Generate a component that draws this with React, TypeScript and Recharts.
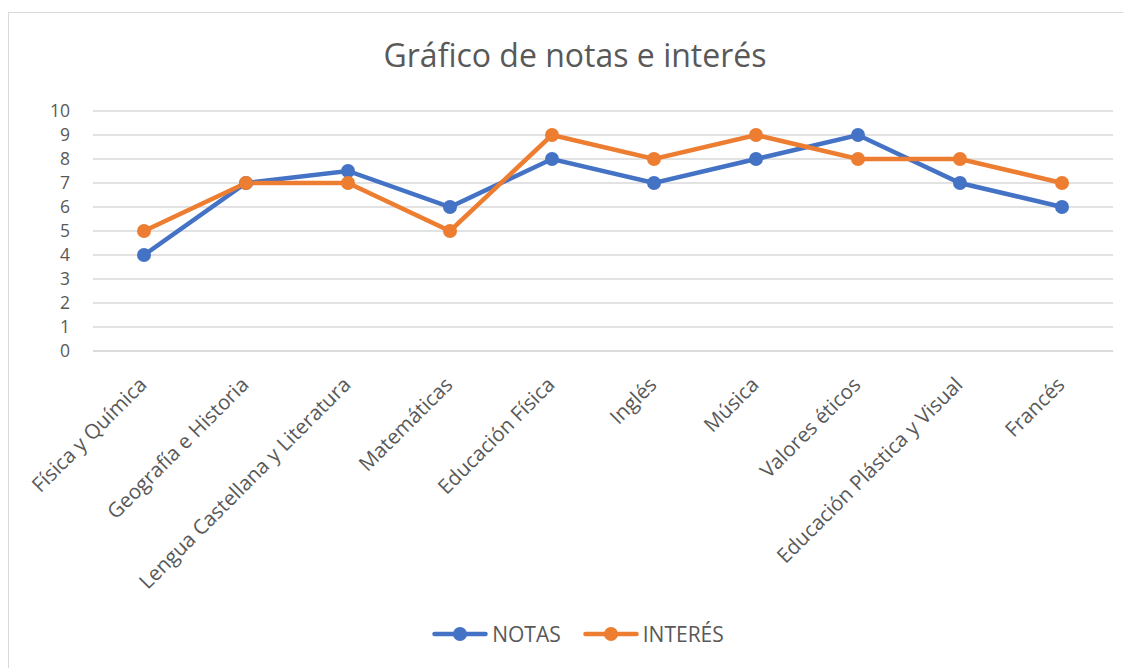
import React from "react";
import { LineChart, Line, XAxis, YAxis, CartesianGrid, Legend } from "recharts";

const categories = [
  "Física y Química",
  "Geografía e Historia",
  "Lengua Castellana y Literatura",
  "Matemáticas",
  "Educación Física",
  "Inglés",
  "Música",
  "Valores éticos",
  "Educación Plástica y Visual",
  "Francés",
];
const notas = [4, 7, 7.5, 6, 8, 7, 8, 9, 7, 6];
const interes = [5, 7, 7, 5, 9, 8, 9, 8, 8, 7];
const yTicks = [0, 1, 2, 3, 4, 5, 6, 7, 8, 9, 10];

const data = categories.map((c, i) => ({ name: c, NOTAS: notas[i], "INTERÉS": interes[i] }));

const BLUE = "#4472C4";
const ORANGE = "#ED7D31";
const TEXT = "#595959";
const FONT = "'Open Sans', 'Noto Sans', sans-serif";

const XTick = (props: any) => {
  const { x, y, payload } = props;
  const ax = x + 4;
  const ay = y + 27;
  return (
    <text
      x={ax}
      y={ay}
      transform={`rotate(-45, ${ax}, ${ay})`}
      textAnchor="end"
      fill={TEXT}
      fontSize={20.5}
      fontFamily={FONT}
    >
      {payload.value}
    </text>
  );
};

const LegendContent = () => {
  const items = [
    { label: "NOTAS", color: BLUE },
    { label: "INTERÉS", color: ORANGE },
  ];
  return (
    <div style={{ display: "flex", justifyContent: "center", alignItems: "center", height: 40, paddingLeft: 35 }}>
      {items.map((it, i) => (
        <div key={it.label} style={{ display: "flex", alignItems: "center", marginRight: i === 0 ? 22 : 0 }}>
          <svg width={56} height={16}>
            <line x1={2.5} y1={8} x2={53.5} y2={8} stroke={it.color} strokeWidth={4.5} strokeLinecap="round" />
            <circle cx={28} cy={8} r={7} fill={it.color} />
          </svg>
          <span style={{ fontFamily: FONT, fontSize: 21, color: TEXT, marginLeft: 4, lineHeight: "24px" }}>{it.label}</span>
        </div>
      ))}
    </div>
  );
};

export default function App() {
  return (
    <div style={{ position: "relative", width: 1123, height: 660, fontFamily: FONT }}>
      <div
        style={{
          position: "absolute",
          left: 0,
          top: 4,
          right: 0,
          bottom: 0,
          borderTop: "1.5px solid #d9d9d9",
          borderLeft: "1.5px solid #d9d9d9",
        }}
      />
      <div
        style={{
          position: "absolute",
          left: 0,
          top: 27,
          width: 1134,
          textAlign: "center",
          fontSize: 32,
          lineHeight: "40px",
          color: TEXT,
          fontFamily: FONT,
        }}
      >
        Gráfico de notas e interés
      </div>
      <div style={{ position: "absolute", left: 0, top: 0 }}>
        <LineChart width={1123} height={660} data={data} margin={{ top: 103, right: 18, bottom: 14, left: 0 }}>
          <CartesianGrid horizontal={true} vertical={false} stroke="#d9d9d9" strokeWidth={1.5} />
          <XAxis
            dataKey="name"
            interval={0}
            height={263}
            padding={{ left: 51, right: 51 }}
            tick={<XTick />}
            tickLine={false}
            axisLine={{ stroke: "#d9d9d9", strokeWidth: 1.5 }}
          />
          <YAxis
            width={85}
            domain={[0, 10]}
            ticks={yTicks}
            interval={0}
            tickLine={false}
            axisLine={false}
            tickMargin={17}
            tick={{ fill: TEXT, fontSize: 17.5, fontFamily: FONT }}
          />
          <Legend verticalAlign="bottom" height={40} content={<LegendContent />} />
          <Line
            type="linear"
            dataKey="NOTAS"
            stroke={BLUE}
            strokeWidth={4.5}
            dot={{ r: 7, fill: BLUE, stroke: BLUE, strokeWidth: 0 }}
            activeDot={false}
            isAnimationActive={false}
          />
          <Line
            type="linear"
            dataKey="INTERÉS"
            stroke={ORANGE}
            strokeWidth={4.5}
            dot={{ r: 7, fill: ORANGE, stroke: ORANGE, strokeWidth: 0 }}
            activeDot={false}
            isAnimationActive={false}
          />
        </LineChart>
      </div>
    </div>
  );
}
